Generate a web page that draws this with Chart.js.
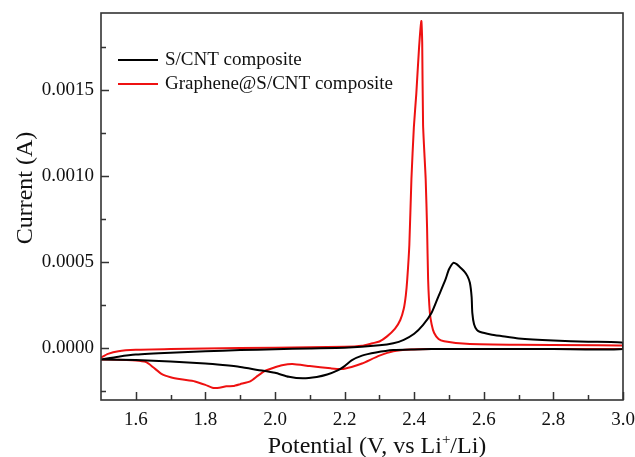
<!DOCTYPE html>
<html>
<head>
<meta charset="utf-8">
<script src="https://cdn.jsdelivr.net/npm/chart.js@4.4.0/dist/chart.umd.min.js"></script>
<style>
  html, body { margin: 0; padding: 0; background: #fff; }
  #wrap { width: 635px; height: 457px; }
</style>
</head>
<body>
<div id="wrap"><canvas id="cvChart" width="635" height="457"></canvas></div>
<script>
// Valores (voltametria cíclica, loop completo: ida e volta)
const cntPotential = [
  1.50, 1.55, 1.60, 1.70, 1.80, 1.90, 2.00, 2.10, 2.20, 2.30, 2.34, 2.37, 2.40, 2.425, 2.45, 2.47, 2.49, 2.50,
  2.513, 2.522, 2.530, 2.545, 2.553, 2.560, 2.565, 2.567, 2.572, 2.580, 2.590, 2.62, 2.65, 2.70, 2.80, 2.90, 3.00,
  3.00, 2.80, 2.60, 2.45, 2.40, 2.34, 2.29, 2.25, 2.22, 2.20, 2.18, 2.15, 2.12, 2.08, 2.04, 2.00, 1.95, 1.90,
  1.85, 1.80, 1.70, 1.60, 1.50
];
const cntCurrent = [
  -0.000064, -0.000048, -0.000036, -0.000025, -0.000017, -0.000010, -0.000005, 0.000000, 0.000004, 0.000018,
  0.000030, 0.000050, 0.000085, 0.000135, 0.000207, 0.000304, 0.000401, 0.000460,
  0.000498, 0.000490, 0.000475, 0.000445, 0.000420, 0.000382, 0.000300, 0.000207, 0.000140, 0.000108, 0.000095,
  0.000081, 0.000072, 0.000058, 0.000046, 0.000039, 0.000033,
  -0.000003, -0.000004, -0.000004, -0.000004, -0.000006, -0.000010, -0.000024, -0.000042, -0.000070, -0.000103,
  -0.000128, -0.000152, -0.000166, -0.000174, -0.000165, -0.000142, -0.000125, -0.000108,
  -0.000097, -0.000088, -0.000076, -0.000068, -0.000064
];
const grPotential = [
  1.50, 1.52, 1.55, 1.60, 1.70, 1.80, 2.00, 2.20, 2.25, 2.28, 2.30, 2.322, 2.345, 2.36, 2.37, 2.376, 2.38,
  2.386, 2.392, 2.399, 2.406, 2.414, 2.4205, 2.423, 2.4255, 2.433, 2.437, 2.440, 2.445, 2.450, 2.457, 2.470,
  2.486, 2.55, 2.70, 3.00,
  3.00, 2.80, 2.60, 2.45, 2.39, 2.34, 2.30, 2.25, 2.22, 2.19, 2.16, 2.10, 2.05, 2.02, 2.00, 1.97, 1.95, 1.93,
  1.90, 1.88, 1.86, 1.84, 1.82, 1.80, 1.77, 1.73, 1.70, 1.675, 1.65, 1.63, 1.60, 1.50
];
const grCurrent = [
  -0.000054, -0.000032, -0.000016, -0.000008, -0.000003, 0.000000, 0.000004, 0.000009, 0.000015, 0.000030,
  0.000040, 0.000070, 0.000115, 0.000165, 0.000230, 0.000310, 0.000401,
  0.000600, 0.000983, 0.001285, 0.001480, 0.001750, 0.001903, 0.001780, 0.001300, 0.000983, 0.000700, 0.000401,
  0.000207, 0.000140, 0.000091, 0.000055, 0.000042, 0.000027, 0.000021, 0.000017,
  -0.000002, -0.000003, -0.000003, -0.000004, -0.000006, -0.000016, -0.000042, -0.000088, -0.000108, -0.000120,
  -0.000116, -0.000103, -0.000091, -0.000098, -0.000110, -0.000132, -0.000160, -0.000190,
  -0.000208, -0.000219, -0.000220, -0.000229, -0.000229, -0.000212, -0.000192, -0.000180, -0.000168, -0.000150,
  -0.000110, -0.000080, -0.000070, -0.000064
];
const seriesLabels = ['S/CNT composite', 'Graphene@S/CNT composite'];
const xTickValues = [1.6, 1.8, 2.0, 2.2, 2.4, 2.6, 2.8, 3.0];
const xMinorValues = [1.7, 1.9, 2.1, 2.3, 2.5, 2.7, 2.9];
const yTickValues = [0, 0.0005, 0.0010, 0.0015];
const yMinorValues = [-0.00025, 0.00025, 0.00075, 0.00125, 0.00175];

const serif = '"Liberation Serif", "Times New Roman", serif';
const frameColor = '#333';

function toPoints(xs, ys) {
  return xs.map((v, i) => ({ x: v, y: ys[i] }));
}

// zera o padding extra que o Chart.js reserva para os rótulos das pontas
function fixScale(s, size) {
  if (s.isHorizontal()) s.height = size; else s.width = size;
  s.paddingTop = 0;
  s.paddingBottom = 0;
  s.paddingLeft = 0;
  s.paddingRight = 0;
}

// Moldura, ticks internos, legenda e títulos dos eixos
const framePlugin = {
  id: 'frame',
  afterDraw(chart) {
    const { ctx, chartArea: a, scales: { x, y } } = chart;
    ctx.save();
    ctx.strokeStyle = frameColor;
    ctx.lineWidth = 1.5;
    ctx.beginPath();
    xTickValues.forEach(v => { const p = Math.round(x.getPixelForValue(v)) + 0.5; ctx.moveTo(p, a.bottom); ctx.lineTo(p, a.bottom - 8); });
    xMinorValues.forEach(v => { const p = Math.round(x.getPixelForValue(v)) + 0.5; ctx.moveTo(p, a.bottom); ctx.lineTo(p, a.bottom - 5); });
    yTickValues.forEach(v => { const p = Math.round(y.getPixelForValue(v)) + 0.5; ctx.moveTo(a.left, p); ctx.lineTo(a.left + 8, p); });
    yMinorValues.forEach(v => { const p = Math.round(y.getPixelForValue(v)) + 0.5; ctx.moveTo(a.left, p); ctx.lineTo(a.left + 5, p); });
    ctx.stroke();
    ctx.lineWidth = 1.6;
    ctx.strokeRect(a.left, a.top, a.width, a.height);

    // legenda
    ctx.font = '19px ' + serif;
    ctx.textBaseline = 'middle';
    ctx.textAlign = 'left';
    chart.data.datasets.forEach((ds, i) => {
      const ly = a.top + 47 + i * 24;
      ctx.strokeStyle = ds.borderColor;
      ctx.lineWidth = 2;
      ctx.beginPath();
      ctx.moveTo(a.left + 17, ly);
      ctx.lineTo(a.left + 57, ly);
      ctx.stroke();
      ctx.fillStyle = '#111';
      ctx.fillText(ds.label, a.left + 64, ly);
    });

    // título do eixo y
    ctx.fillStyle = '#111';
    ctx.font = '24px ' + serif;
    ctx.textBaseline = 'alphabetic';
    ctx.save();
    ctx.translate(32, 188);
    ctx.rotate(-Math.PI / 2);
    ctx.textAlign = 'center';
    ctx.fillText('Current (A)', 0, 0);
    ctx.restore();

    // título do eixo x com sobrescrito
    const part1 = 'Potential (V, vs Li';
    const sup = '+';
    const part2 = '/Li)';
    ctx.font = '24px ' + serif;
    const w1 = ctx.measureText(part1).width;
    const w3 = ctx.measureText(part2).width;
    ctx.font = '15px ' + serif;
    const w2 = ctx.measureText(sup).width;
    const total = w1 + w2 + w3;
    let tx = 377 - total / 2;
    const base = 453;
    ctx.textAlign = 'left';
    ctx.font = '24px ' + serif;
    ctx.fillText(part1, tx, base);
    tx += w1;
    ctx.font = '15px ' + serif;
    ctx.fillText(sup, tx, base - 9);
    tx += w2;
    ctx.font = '24px ' + serif;
    ctx.fillText(part2, tx, base);
    ctx.restore();
  }
};

document.addEventListener('DOMContentLoaded', function() {
  const el = document.getElementById('cvChart');
  new Chart(el, {
    type: 'scatter',
    data: {
      datasets: [{
        label: seriesLabels[0],
        data: toPoints(cntPotential, cntCurrent),
        showLine: true,
        borderColor: '#000000',
        borderWidth: 2,
        pointRadius: 0,
        tension: 0.2,
      }, {
        label: seriesLabels[1],
        data: toPoints(grPotential, grCurrent),
        showLine: true,
        borderColor: '#ee1111',
        borderWidth: 2,
        pointRadius: 0,
        tension: 0.2,
      }]
    },
    options: {
      responsive: false,
      animation: false,
      devicePixelRatio: 1,
      layout: { padding: { top: 13, right: 12, left: 0, bottom: 0 } },
      plugins: {
        legend: { display: false },
        tooltip: { enabled: false },
      },
      scales: {
        x: {
          type: 'linear',
          min: 1.5,
          max: 3.0,
          afterBuildTicks: s => { s.ticks = xTickValues.map(v => ({ value: v })); },
          afterFit: s => fixScale(s, 57),
          grid: { display: false, drawTicks: false },
          border: { display: false },
          ticks: {
            autoSkip: false,
            maxRotation: 0,
            padding: 9,
            color: '#111',
            font: { family: serif, size: 19 },
            callback: v => Number(v).toFixed(1),
          }
        },
        y: {
          type: 'linear',
          min: -0.0003,
          max: 0.00195,
          afterBuildTicks: s => { s.ticks = yTickValues.map(v => ({ value: v })); },
          afterFit: s => fixScale(s, 101),
          grid: { display: false, drawTicks: false },
          border: { display: false },
          ticks: {
            padding: 7,
            color: '#111',
            font: { family: serif, size: 19 },
            callback: v => Number(v).toFixed(4),
          }
        }
      }
    },
    plugins: [framePlugin]
  });
});
</script>
</body>
</html>
